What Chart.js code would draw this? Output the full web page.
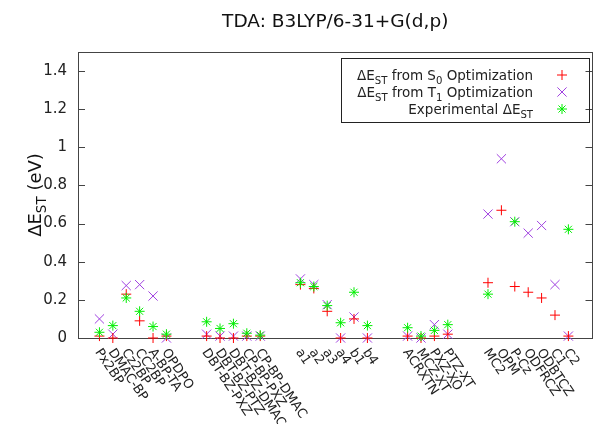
<!DOCTYPE html>
<html>
<head>
<meta charset="utf-8">
<script src="https://cdn.jsdelivr.net/npm/chart.js@4.4.1/dist/chart.umd.min.js"></script>
<style>
body { margin: 0; background: #fff; }
</style>
</head>
<body>
<canvas id="chart" width="600" height="424"></canvas>
<script>
// molecules along the x axis, '' = gap between families
var categories = ['Px2BP', 'DMAC-BP', 'Cz2BP', 'CC2BP', 'A-BP-TA', 'OPDPO', '', '',
    'DBT-BZ-PXZ', 'DBT-BZ-PTZ', 'DBT-BZ-DMAC', 'CP-BP-PXZ', 'CP-BP-DMAC', '', '',
    'a1', 'a2', 'a3', 'a4', 'b1', 'b4', '', '',
    'ACRXTN', 'MCZ-XT', 'PXZ-XO', 'PTZ-XT', '', '',
    'MC2', 'OPM', 'P-Cz', 'ODFRCZ', 'ODBTCZ', 'C1', 'C2'];

var fromS0 = [0.01, 0.00, 0.23, 0.09, 0.00, 0.01, null, null,
    0.01, 0.00, 0.00, 0.01, 0.01, null, null,
    0.28, 0.26, 0.14, 0.00, 0.10, 0.00, null, null,
    0.01, 0.00, 0.01, 0.02, null, null,
    0.29, 0.67, 0.27, 0.24, 0.21, 0.12, 0.01];

var fromT1 = [0.10, 0.02, 0.275, 0.28, 0.22, 0.00, null, null,
    0.02, 0.01, 0.01, 0.01, 0.01, null, null,
    0.31, 0.28, 0.175, 0.00, 0.11, 0.00, null, null,
    0.01, 0.00, 0.07, 0.02, null, null,
    0.65, 0.94, 0.61, 0.55, 0.59, 0.28, 0.01];

var experimental = [0.03, 0.065, 0.21, 0.14, 0.06, 0.02, null, null,
    0.085, 0.05, 0.075, 0.025, 0.015, null, null,
    0.29, 0.27, 0.17, 0.08, 0.24, 0.065, null, null,
    0.054, 0.01, 0.04, 0.07, null, null,
    0.23, null, 0.61, null, null, null, 0.57];

var yTicks = [0, 0.2, 0.4, 0.6, 0.8, 1, 1.2, 1.4];

var FONT = 'DejaVu Sans';
Chart.defaults.font.family = FONT;

function toPoints(values) {
    var pts = [];
    for (var i = 0; i < values.length; i++) {
        if (values[i] !== null) pts.push({x: i, y: values[i]});
    }
    return pts;
}

// text with subscripts: parts = [[text, isSub], ...]
function richWidth(ctx, parts, size) {
    var w = 0;
    parts.forEach(function(p) {
        ctx.font = (p[1] ? size * 0.75 : size) + 'px "' + FONT + '"';
        w += ctx.measureText(p[0]).width;
    });
    return w;
}

function drawRich(ctx, parts, x, y, size) {
    parts.forEach(function(p) {
        ctx.font = (p[1] ? size * 0.75 : size) + 'px "' + FONT + '"';
        ctx.fillText(p[0], x, p[1] ? y + size * 0.28 : y);
        x += ctx.measureText(p[0]).width;
    });
}

function drawMarker(ctx, style, x, y, r, color) {
    ctx.save();
    ctx.strokeStyle = color;
    ctx.lineWidth = 1;
    ctx.beginPath();
    if (style === 'cross' || style === 'star') {
        ctx.moveTo(x - r, y); ctx.lineTo(x + r, y);
        ctx.moveTo(x, y - r); ctx.lineTo(x, y + r);
    }
    if (style === 'crossRot' || style === 'star') {
        var d = r * 0.7071;
        ctx.moveTo(x - d, y - d); ctx.lineTo(x + d, y + d);
        ctx.moveTo(x - d, y + d); ctx.lineTo(x + d, y - d);
    }
    ctx.stroke();
    ctx.restore();
}

var legendItems = [
    {parts: [['ΔE', false], ['ST', true], [' from S', false], ['0', true], [' Optimization', false]], style: 'cross', r: 5, color: '#ff0000'},
    {parts: [['ΔE', false], ['ST', true], [' from T', false], ['1', true], [' Optimization', false]], style: 'crossRot', r: 6.5, color: '#a040e0'},
    {parts: [['Experimental ΔE', false], ['ST', true]], style: 'star', r: 5, color: '#00ee00'}
];

var gnuplotLook = {
    id: 'gnuplotLook',
    beforeDatasetsDraw: function(chart) {
        var ctx = chart.ctx, a = chart.chartArea, y = chart.scales.y;
        ctx.save();
        ctx.strokeStyle = '#444';
        ctx.lineWidth = 1;
        ctx.strokeRect(Math.round(a.left) + 0.5, Math.round(a.top) + 0.5,
            Math.round(a.right - a.left) - 1, Math.round(a.bottom - a.top));
        ctx.beginPath();
        yTicks.forEach(function(v) {
            var py = Math.round(y.getPixelForValue(v)) + 0.5;
            ctx.moveTo(a.left, py); ctx.lineTo(a.left + 7, py);
            ctx.moveTo(a.right, py); ctx.lineTo(a.right - 7, py);
        });
        ctx.stroke();
        ctx.restore();
    },
    afterDraw: function(chart) {
        var ctx = chart.ctx, a = chart.chartArea, x = chart.scales.x;
        ctx.save();
        ctx.fillStyle = '#222';

        // rotated category labels
        ctx.font = '13px "' + FONT + '"';
        ctx.textAlign = 'left';
        ctx.textBaseline = 'middle';
        categories.forEach(function(name, i) {
            if (!name) return;
            ctx.save();
            ctx.translate(x.getPixelForValue(i) - 2, a.bottom + 12);
            ctx.rotate(56 * Math.PI / 180);
            ctx.fillText(name, 0, 0);
            ctx.restore();
        });

        // title
        ctx.fillStyle = '#111';
        ctx.textBaseline = 'alphabetic';
        ctx.font = '18.5px "' + FONT + '"';
        ctx.textAlign = 'center';
        ctx.fillText('TDA: B3LYP/6-31+G(d,p)', (a.left + a.right) / 2, 27);

        // y axis title
        ctx.textAlign = 'left';
        var yParts = [['ΔE', false], ['ST', true], [' (eV)', false]];
        ctx.save();
        ctx.translate(41, (a.top + a.bottom) / 2);
        ctx.rotate(-Math.PI / 2);
        drawRich(ctx, yParts, -richWidth(ctx, yParts, 18) / 2, 0, 18);
        ctx.restore();

        // legend box
        ctx.strokeStyle = '#222';
        ctx.lineWidth = 1;
        ctx.strokeRect(341.5, 58.5, 248, 64);
        ctx.fillStyle = '#222';
        legendItems.forEach(function(item, k) {
            var ly = 80 + k * 17;
            var w = richWidth(ctx, item.parts, 13.5);
            drawRich(ctx, item.parts, 533 - w, ly, 13.5);
            drawMarker(ctx, item.style, 562, ly - 5, item.r, item.color);
        });
        ctx.restore();
    }
};

new Chart(document.getElementById('chart').getContext('2d'), {
    type: 'scatter',
    data: {
        datasets: [{
            label: 'Experimental',
            data: toPoints(experimental),
            pointStyle: 'star',
            pointRadius: 5,
            borderColor: '#00ee00',
            backgroundColor: '#00ee00',
            pointBorderWidth: 1,
            order: 1,
            clip: false
        }, {
            label: 'S0',
            data: toPoints(fromS0),
            pointStyle: 'cross',
            pointRadius: 5,
            borderColor: '#ff0000',
            backgroundColor: '#ff0000',
            pointBorderWidth: 1,
            order: 2,
            clip: false
        }, {
            label: 'T1',
            data: toPoints(fromT1),
            pointStyle: 'crossRot',
            pointRadius: 6.5,
            borderColor: '#a040e0',
            backgroundColor: '#a040e0',
            pointBorderWidth: 1,
            order: 3,
            clip: false
        }]
    },
    options: {
        responsive: false,
        animation: false,
        layout: {padding: {top: 52, right: 2, bottom: 86, left: 0}},
        plugins: {legend: {display: false}, tooltip: {enabled: false}},
        scales: {
            x: {type: 'linear', display: false, min: -1.6, max: 36.8},
            y: {
                min: 0,
                max: 1.5,
                afterBuildTicks: function(scale) {
                    scale.ticks = yTicks.map(function(v) { return {value: v}; });
                },
                afterFit: function(scale) { scale.width = 78; },
                grid: {display: false},
                border: {display: false},
                ticks: {
                    padding: 3,
                    color: '#222',
                    font: {size: 15},
                    callback: function(v) { return String(v); }
                }
            }
        }
    },
    plugins: [gnuplotLook]
});
</script>
</body>
</html>
